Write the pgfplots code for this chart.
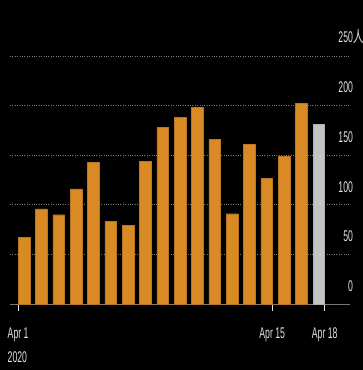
\documentclass[border=0pt]{standalone}
\usepackage{fontspec}
\setmainfont{Liberation Sans}[FakeStretch=0.56]
\newfontfamily\cjk{Noto Sans CJK SC}[FakeStretch=0.7]
\usepackage{pgfplots}
\pgfplotsset{compat=1.18}
\definecolor{barorange}{RGB}{218,138,37}
\definecolor{bargray}{RGB}{196,196,196}
\definecolor{txt}{RGB}{225,225,225}
\definecolor{gridc}{RGB}{120,120,120}
\begin{document}
\begin{tikzpicture}[x=1pt,y=1pt]
\fill[black] (0,0) rectangle (363,370);
\useasboundingbox (0,0) rectangle (363,370);
\begin{axis}[
  at={(10pt,66pt)}, anchor=south west,
  scale only axis, width=340pt, height=272.8pt,
  xmin=0.192, xmax=19.81, ymin=0, ymax=275,
  axis x line*=bottom, axis y line*=right,
  y axis line style={draw=none},
  x axis line style={draw=gridc, line width=0.8pt, -},
  ytick={0,50,100,150,200,250},
  yticklabels={0,50,100,150,200,{250\makebox[0pt][l]{\cjk 人}}},
  ytick style={draw=none},
  yticklabel style={anchor=south east, xshift=-0.5pt, yshift=9pt, font=\fontsize{15.5}{17}\selectfont, text=txt},
  ymajorgrids,
  grid style={draw=gridc, dotted, line width=0.7pt},
  xtick={0.66,15.32,18.35},
  xticklabels={{Apr 1\\2020},{Apr 15},{Apr 18}},
  xticklabel style={align=left, font=\fontsize{15.5}{24}\selectfont, text=txt, yshift=-13pt},
  xtick style={draw=txt, line width=0.6pt},
  tick align=outside, major tick length=7pt,
  /pgf/number format/assume math mode=true,
  clip=false,
]
\addplot[ybar, bar width=0.675, bar shift=0pt, fill=barorange, draw=barorange!85!black, line width=0.4pt]
  coordinates {(1,67) (2,96) (3,90) (4,116) (5,143) (6,83) (7,79) (8,144) (9,178) (10,188) (11,198) (12,166) (13,91) (14,161) (15,127) (16,149) (17,202)};
\addplot[ybar, bar width=0.675, bar shift=0pt, fill=bargray, draw=bargray!90!black, line width=0.4pt]
  coordinates {(18,181)};
\end{axis}
\end{tikzpicture}
\end{document}
